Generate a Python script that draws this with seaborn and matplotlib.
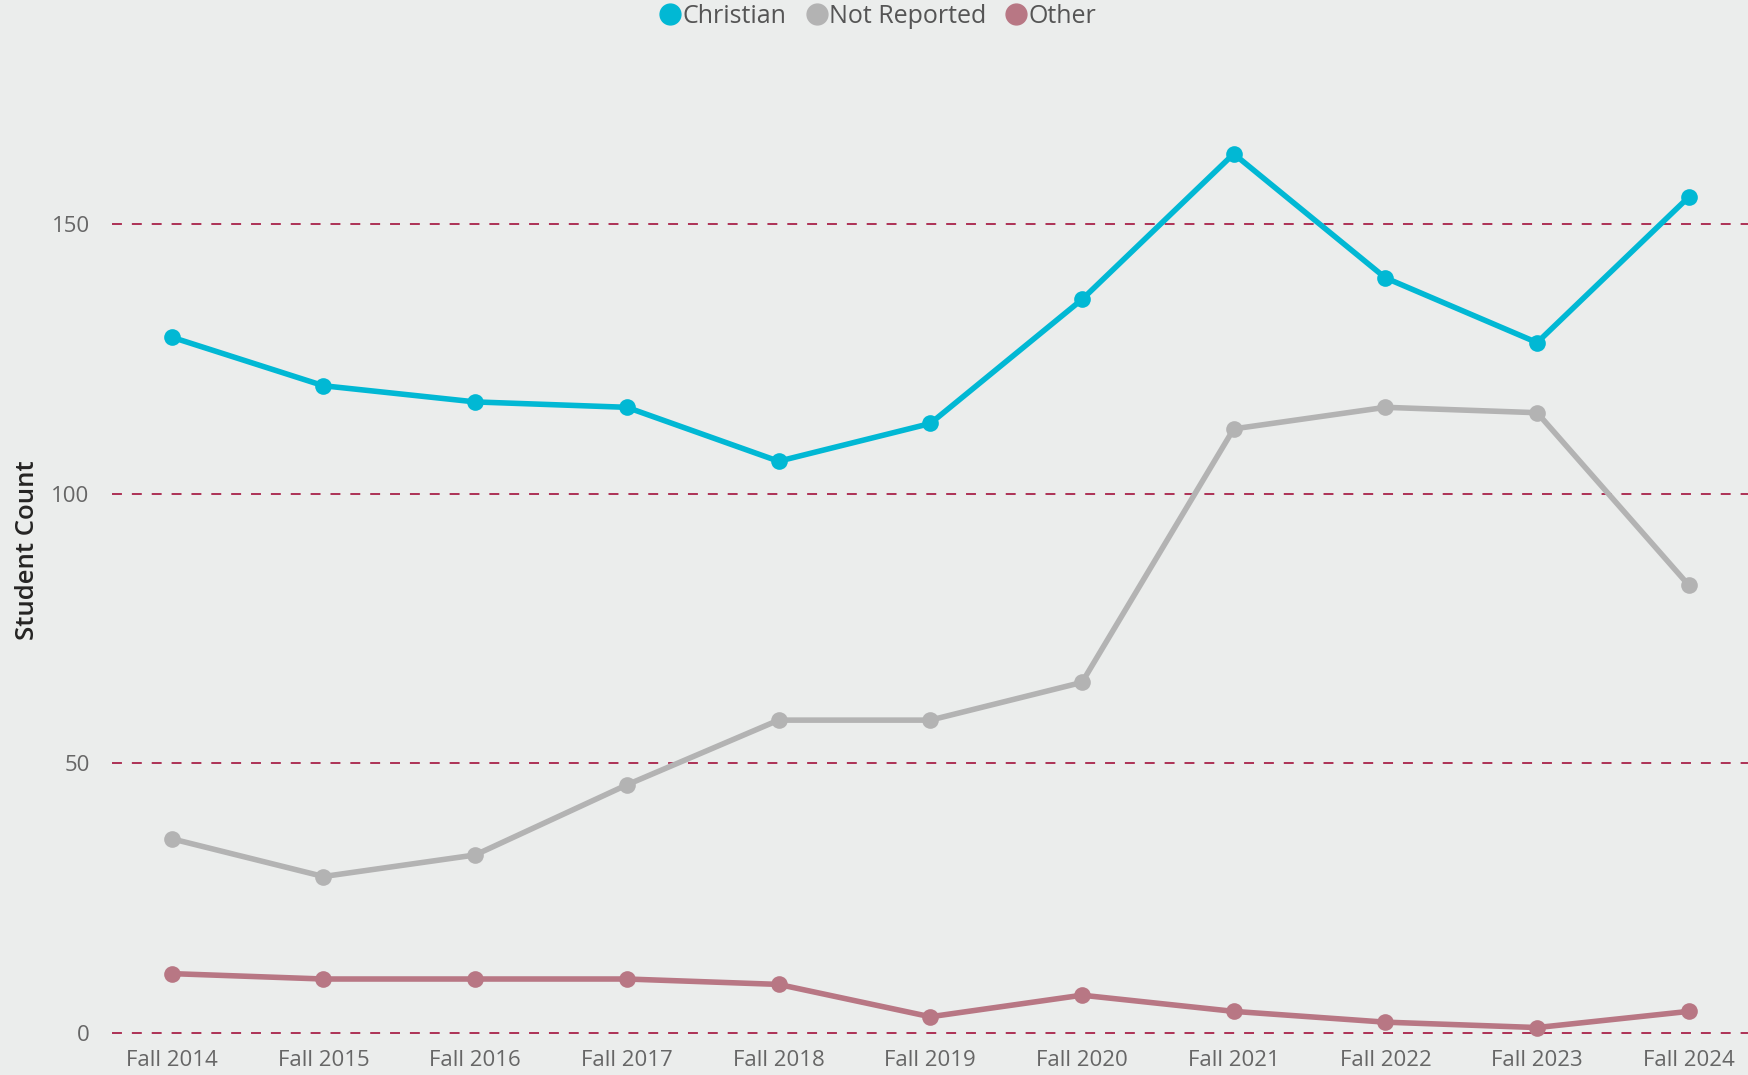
import pandas as pd
import seaborn as sns
import matplotlib.pyplot as plt
from matplotlib.lines import Line2D

# Chart data
terms = ['Fall 2014', 'Fall 2015', 'Fall 2016', 'Fall 2017', 'Fall 2018', 'Fall 2019',
         'Fall 2020', 'Fall 2021', 'Fall 2022', 'Fall 2023', 'Fall 2024']
christian = [129, 120, 117, 116, 106, 113, 136, 163, 140, 128, 155]
not_reported = [36, 29, 33, 46, 58, 58, 65, 112, 116, 115, 83]
other = [11, 10, 10, 10, 9, 3, 7, 4, 2, 1, 4]
groups = ['Christian', 'Not Reported', 'Other']
colors = ['#01B8D4', '#B3B3B3', '#B87784']

# Long format table
df = pd.DataFrame({'Term': terms * 3,
                   'Count': christian + not_reported + other,
                   'Religion': [g for g in groups for _ in terms]})
df['pos'] = df['Term'].map({t: i for i, t in enumerate(terms)})

bg = '#EBEDEC'
sns.set_style('white')
plt.rcParams['font.family'] = ['Open Sans', 'DejaVu Sans']

fig = plt.figure(figsize=(17.48, 10.75), dpi=100, facecolor=bg)
ax = fig.add_axes([0.064, 0.0326, 0.936, 0.9116], facecolor=bg)

for val in [0, 50, 100, 150]:
    ax.axhline(val, color='#A8234A', linestyle=(0, (5.5, 5.5)), linewidth=1.3, zorder=1)

sns.lineplot(data=df, x='pos', y='Count', hue='Religion', palette=colors,
             marker='o', markersize=12, markeredgewidth=0, linewidth=4,
             legend=False, ax=ax, zorder=3, clip_on=False)

ax.set_xlim(-0.395, 10.39)
ax.set_ylim(-1.3, 180.4)
ax.set_xticks(range(len(terms)))
ax.set_xticklabels(terms)
ax.set_yticks([0, 50, 100, 150])
ax.tick_params(axis='both', length=0, labelsize=16, labelcolor='#666666')
ax.tick_params(axis='x', pad=7)
ax.tick_params(axis='y', pad=16)
ax.set_xlabel('')
ax.set_ylabel('Student Count', fontsize=18.5, color='#252423', fontweight='semibold', labelpad=8)
for s in ax.spines.values():
    s.set_visible(False)

handles = [Line2D([0], [0], marker='o', linestyle='', markersize=15, color=c) for c in colors]
fig.legend(handles, groups, loc='center', bbox_to_anchor=(0.5, 0.985), ncol=3, frameon=False,
           fontsize=18, labelcolor='#555555', handletextpad=-0.25, columnspacing=0.45,
           handlelength=1.5, borderaxespad=0)

fig.savefig('out.png', dpi=100, facecolor=bg)
